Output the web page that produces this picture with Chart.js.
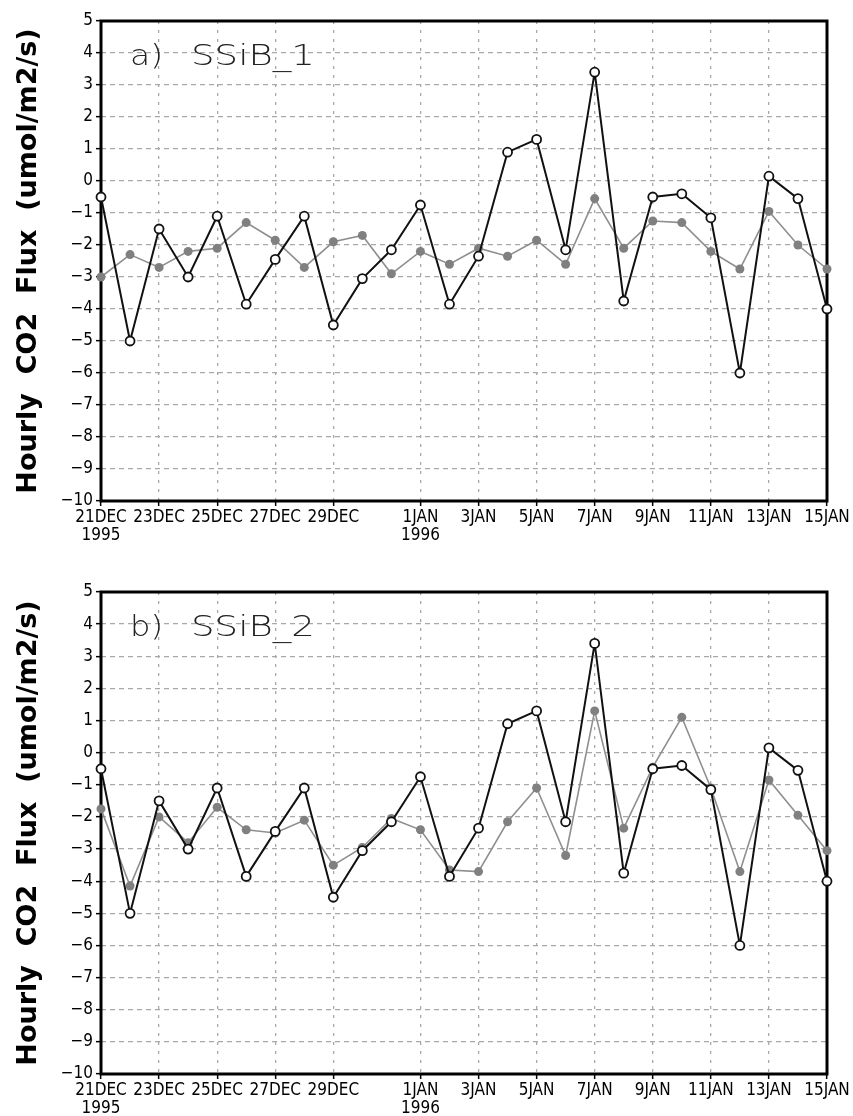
<!DOCTYPE html>
<html><head><meta charset="utf-8">
<script src="https://cdn.jsdelivr.net/npm/chart.js@4.4.1/dist/chart.umd.min.js"></script>
<style>
html,body{margin:0;padding:0;background:#fff;}
body{width:853px;height:1116px;position:relative;overflow:hidden;}
.panel{position:absolute;left:0;width:853px;height:558px;}
</style></head><body>
<div class="panel" style="top:0"><canvas id="c1" width="853" height="558"></canvas></div>
<div class="panel" style="top:558px"><canvas id="c2" width="853" height="558"></canvas></div>
<script>
// Days since 21 Dec 1995 (21DEC ... 15JAN)
const dayIndex = [0,1,2,3,4,5,6,7,8,9,10,11,12,13,14,15,16,17,18,19,20,21,22,23,24,25];
// Observed hourly CO2 flux (black, open circles)
const observed = [-0.5,-5.0,-1.5,-3.0,-1.1,-3.85,-2.45,-1.1,-4.5,-3.05,-2.15,-0.75,-3.85,-2.35,0.9,1.3,-2.15,3.4,-3.75,-0.5,-0.4,-1.15,-6.0,0.15,-0.55,-4.0];
// Simulated (gray, filled circles)
const ssib1 = [-3.0,-2.3,-2.7,-2.2,-2.1,-1.3,-1.85,-2.7,-1.9,-1.7,-2.9,-2.2,-2.6,-2.1,-2.35,-1.85,-2.6,-0.55,-2.1,-1.25,-1.3,-2.2,-2.75,-0.95,-2.0,-2.75];
const ssib2 = [-1.75,-4.15,-2.0,-2.8,-1.7,-2.4,-2.5,-2.1,-3.5,-2.95,-2.05,-2.4,-3.65,-3.7,-2.15,-1.1,-3.2,1.3,-2.35,-0.45,1.1,-1.1,-3.7,-0.85,-1.95,-3.05];
// Tick positions and labels
const xTickDays = [0,2,4,6,8,11,13,15,17,19,21,23,25];
const xTickLabels = [["21DEC","1995"],"23DEC","25DEC","27DEC","29DEC",["1JAN","1996"],"3JAN","5JAN","7JAN","9JAN","11JAN","13JAN","15JAN"];
const yMin = -10, yMax = 5;
const yTitle = "Hourly  CO2  Flux  (umol/m2/s)";
const panelTitles = [["a)","SSiB_1"],["b)","SSiB_2"]];

const tickFont = {family:"'DejaVu Sans Condensed','Liberation Sans Narrow',sans-serif", size:17, lineHeight:1.05};

const framePlugin = {
  id:'frame',
  beforeDatasetsDraw(chart){
    const {ctx, chartArea:a} = chart;
    ctx.save();
    ctx.strokeStyle = '#000';
    ctx.lineWidth = 3;
    ctx.setLineDash([]);
    ctx.strokeRect(a.left, a.top, a.right-a.left, a.bottom-a.top);
    ctx.restore();
  }
};
const labelPlugin = {
  id:'panelLabel',
  afterDraw(chart, args, opts){
    const {ctx, chartArea:a} = chart;
    ctx.save();
    ctx.fillStyle = '#222';
    ctx.font = "200 29px 'DejaVu Sans', sans-serif";
    ctx.textBaseline = 'alphabetic';
    const base = a.top + 44;
    const parts = [[opts.text[0], a.left+29, 33],[opts.text[1], a.left+90, 124]];
    for (const [t,x,w] of parts){
      const m = ctx.measureText(t).width;
      ctx.save();
      ctx.translate(x, base);
      ctx.scale(w/m, 1);
      ctx.fillText(t, 0, 0);
      ctx.restore();
    }
    ctx.restore();
  }
};

function makeChart(id, model, title, padTop, xHeight){
  const obsPts = dayIndex.map((d,i)=>({x:d, y:observed[i]}));
  const modPts = dayIndex.map((d,i)=>({x:d, y:model[i]}));
  return new Chart(document.getElementById(id), {
    type:'line',
    data:{datasets:[
      {data:obsPts, borderColor:'#111', borderWidth:2, pointRadius:4.5, pointBorderWidth:1.8,
       pointBackgroundColor:'#fff', pointBorderColor:'#111', tension:0, clip:false},
      {data:modPts, borderColor:'#8f8f8f', borderWidth:1.6, pointRadius:4.5, pointBorderWidth:0,
       pointBackgroundColor:'#808080', pointBorderColor:'#808080', tension:0, clip:false}
    ]},
    options:{
      responsive:false, animation:false, events:[],
      layout:{padding:{left:0, top:padTop, right:26, bottom:0}},
      plugins:{legend:{display:false}, tooltip:{enabled:false}, panelLabel:{text:title}},
      scales:{
        x:{type:'linear', min:0, max:25,
          afterBuildTicks(s){ s.ticks = xTickDays.map(v=>({value:v})); },
          afterFit(s){ s.height = xHeight; s.paddingLeft = 0; s.paddingRight = 0; },
          ticks:{autoSkip:false, maxRotation:0, minRotation:0, padding:3, color:'#000', font:tickFont,
            callback(v){ const k = xTickDays.indexOf(v); return k>=0 ? xTickLabels[k] : ''; }},
          grid:{color:'#a8a8a8', lineWidth:1.3, tickLength:5, tickColor:'#000', tickWidth:1.5},
          border:{display:false, dash:[3,6]}
        },
        y:{min:yMin, max:yMax,
          afterFit(s){ s.width = 101; s.paddingTop = 0; s.paddingBottom = 0; },
          ticks:{stepSize:1, padding:3, color:'#000', font:tickFont,
            callback(v){ return v<0 ? '\u2212'+Math.abs(v) : String(v); }},
          grid:{color:'#a8a8a8', lineWidth:1.3, tickLength:5, tickColor:'#000', tickWidth:1.5},
          border:{display:false, dash:[5,4]},
          title:{display:true, text:yTitle, color:'#000',
            font:{family:"'DejaVu Sans',sans-serif", weight:'bold', size:27, lineHeight:1.2},
            padding:{top:13, bottom:0}}
        }
      }
    },
    plugins:[framePlugin, labelPlugin]
  });
}
makeChart('c1', ssib1, panelTitles[0], 21, 57);
makeChart('c2', ssib2, panelTitles[1], 34, 42);
</script>
</body></html>
